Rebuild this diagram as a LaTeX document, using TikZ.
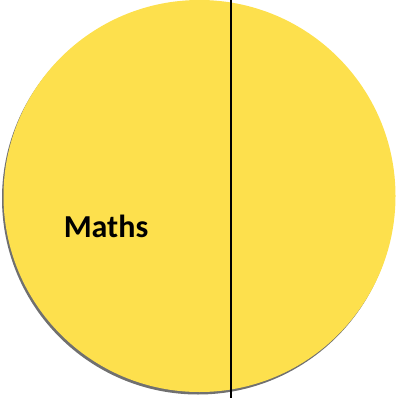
\documentclass[tikz,border=0pt]{standalone}
\usepackage{fontspec}
\setmainfont{Carlito}
\usetikzlibrary{positioning}
\definecolor{mathsyellow}{HTML}{FDE04D}

\begin{document}
\begin{tikzpicture}[x=0.75pt, y=-0.75pt]
\useasboundingbox (0,0) rectangle (397,398);
% shadow, then the disc
\fill[black!70, opacity=0.8] (198,198.5) circle[radius=196];
\node[circle, fill=mathsyellow, inner sep=0pt, minimum size=294pt] (disc) at (199.5,196) {};
\node[font=\bfseries\fontsize{24}{28}\selectfont] (maths) at (106,226) {Maths};

\coordinate (top) at (231,0);
\coordinate (bottom) at (231,398);
\draw[line width=1.5pt] (top) -- (bottom);
\end{tikzpicture}
\end{document}
